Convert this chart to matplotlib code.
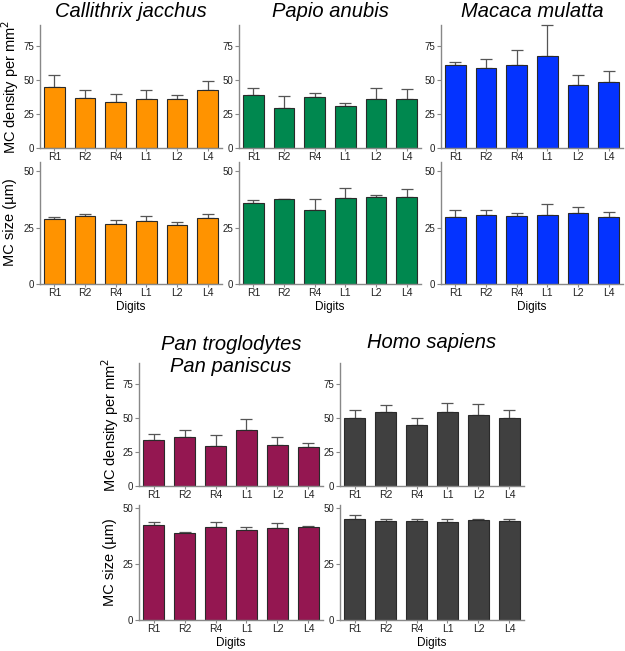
import numpy as np
import matplotlib
matplotlib.use("Agg")
import matplotlib.pyplot as plt

plt.rcParams['font.family'] = ['Liberation Sans', 'DejaVu Sans']

# ---------- data ----------
digits = ['R1', 'R2', 'R4', 'L1', 'L2', 'L4']

species = ['Callithrix jacchus', 'Papio anubis', 'Macaca mulatta',
           'Pan troglodytes\nPan paniscus', 'Homo sapiens']
colors = ['#FF9300', '#00884F', '#0433FF', '#941751', '#404040']

# MC density per mm2 (mean, upper error)
dens_callithrix = [45.0, 36.5, 34.0, 35.5, 36.0, 42.5]
dens_callithrix_err = [8.2, 6.0, 5.3, 7.2, 3.0, 6.5]
dens_papio = [38.7, 29.4, 37.3, 30.6, 35.5, 35.5]
dens_papio_err = [4.9, 8.8, 2.9, 2.0, 8.1, 7.4]
dens_macaca = [60.4, 58.7, 60.4, 67.2, 46.2, 48.2]
dens_macaca_err = [2.7, 6.1, 11.0, 22.5, 7.1, 7.8]
dens_pan = [34.0, 35.9, 29.3, 40.8, 29.8, 28.6]
dens_pan_err = [4.4, 5.4, 8.1, 8.1, 5.7, 2.9]
dens_homo = [49.9, 53.8, 44.5, 54.0, 52.3, 50.1]
dens_homo_err = [5.4, 5.6, 4.9, 6.6, 7.6, 5.2]

# MC size (um)
size_callithrix = [28.6, 29.9, 26.5, 27.7, 26.1, 29.2]
size_callithrix_err = [1.0, 1.2, 2.0, 2.2, 1.5, 1.9]
size_papio = [35.9, 37.5, 32.7, 38.1, 38.4, 38.5]
size_papio_err = [1.3, 0.2, 4.8, 4.3, 1.0, 3.6]
size_macaca = [29.8, 30.7, 30.2, 30.7, 31.3, 29.6]
size_macaca_err = [2.8, 1.9, 1.3, 4.6, 2.8, 2.1]
size_pan = [42.5, 39.0, 41.8, 40.3, 41.3, 41.5]
size_pan_err = [1.5, 0.6, 1.9, 1.2, 2.3, 0.4]
size_homo = [45.4, 44.5, 44.5, 43.9, 44.9, 44.5]
size_homo_err = [1.5, 0.6, 0.9, 1.2, 0.5, 0.9]

density = [dens_callithrix, dens_papio, dens_macaca, dens_pan, dens_homo]
density_err = [dens_callithrix_err, dens_papio_err, dens_macaca_err, dens_pan_err, dens_homo_err]
size = [size_callithrix, size_papio, size_macaca, size_pan, size_homo]
size_err = [size_callithrix_err, size_papio_err, size_macaca_err, size_pan_err, size_homo_err]

W, H = 625, 651
fig = plt.figure(figsize=(W / 100, H / 100), dpi=100)


def px_axes(x, ytop, w, h):
    ax = fig.add_axes([x / W, 1 - (ytop + h) / H, w / W, h / H])
    ax.set_facecolor('none')
    return ax


def draw_bars(ax, vals, errs, color, ymax, yticks):
    x = np.arange(len(digits))
    ax.bar(x, vals, width=0.67, color=color, edgecolor='#2a2a2a', linewidth=0.8, zorder=2)
    ax.errorbar(x, vals, yerr=[np.zeros(len(vals)), errs], fmt='none',
                ecolor='#555555', elinewidth=0.9, capsize=4.5, capthick=0.9, zorder=1,
                clip_on=False)
    ax.set_xlim(-0.47, 5.47)
    ax.set_ylim(0, ymax)
    ax.set_xticks(x)
    ax.set_xticklabels(digits, fontsize=7.5, color='#222222')
    ax.set_yticks(yticks)
    ax.tick_params(axis='y', labelsize=7, length=3, width=0.8, pad=1, colors='#888888',
                   labelcolor='#222222')
    ax.tick_params(axis='x', length=2, width=0.8, pad=1, colors='#888888',
                   labelcolor='#222222')
    for s in ['top', 'right']:
        ax.spines[s].set_visible(False)
    for s in ['left', 'bottom']:
        ax.spines[s].set_color('#888888')
        ax.spines[s].set_linewidth(1.0)


# ---------- top row ----------
top_x = [40, 239, 441]
for i in range(3):
    ax1 = px_axes(top_x[i], 25, 182, 123)
    draw_bars(ax1, density[i], density_err[i], colors[i], 90, [0, 25, 50, 75])
    ax1.set_title(species[i], fontsize=14.5, style='italic', pad=6)
    ax2 = px_axes(top_x[i], 162, 182, 122)
    draw_bars(ax2, size[i], size_err[i], colors[i], 54, [0, 25, 50])
    ax2.set_xlabel('Digits', fontsize=8.5, labelpad=2)

fig.text(10 / W, 1 - 87 / H, 'MC density per mm$^2$', rotation=90, ha='center',
         va='center', fontsize=10.5)
fig.text(10 / W, 1 - 222 / H, 'MC size (µm)', rotation=90, ha='center',
         va='center', fontsize=10.5)

# ---------- bottom row ----------
bot_x = [139, 340]
for j in range(2):
    i = 3 + j
    ax1 = px_axes(bot_x[j], 363, 184, 123)
    draw_bars(ax1, density[i], density_err[i], colors[i], 90, [0, 25, 50, 75])
    if j == 0:
        ax1.text(0.5, 1.06, species[i], transform=ax1.transAxes, ha='center',
                 va='center', fontsize=14.5, style='italic', linespacing=1.2)
    else:
        ax1.text(0.5, 1.17, species[i], transform=ax1.transAxes, ha='center',
                 va='center', fontsize=14.5, style='italic')
    ax2 = px_axes(bot_x[j], 505, 184, 115)
    draw_bars(ax2, size[i], size_err[i], colors[i], 51.5, [0, 25, 50])
    ax2.set_xlabel('Digits', fontsize=8.5, labelpad=2)

fig.text(110 / W, 1 - 425 / H, 'MC density per mm$^2$', rotation=90, ha='center',
         va='center', fontsize=10.5)
fig.text(110 / W, 1 - 562 / H, 'MC size (µm)', rotation=90, ha='center',
         va='center', fontsize=10.5)

fig.savefig('out.png', dpi=100)
